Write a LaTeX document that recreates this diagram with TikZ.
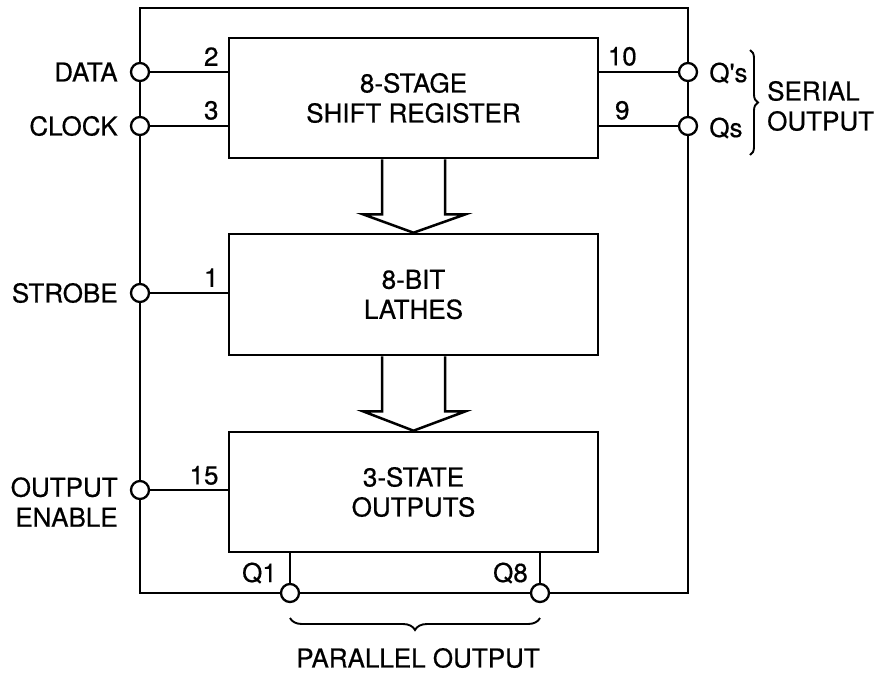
\documentclass[tikz,border=0pt]{standalone}
\usepackage{fontspec}
\setmainfont{TeX Gyre Heros}[FakeBold=0.5]
\usetikzlibrary{decorations.pathreplacing,calc}
\begin{document}
\begin{tikzpicture}[x=1pt,y=-1pt,
  lbl/.style={font=\fontsize{26}{30}\selectfont, inner sep=0pt},
  blk/.style={draw, line width=2.6pt, minimum width=369pt, minimum height=120pt, align=center, font=\fontsize{26}{30}\selectfont, fill=white},
  pin/.style={circle, draw, fill=white, line width=2.3pt, minimum size=18pt, inner sep=0pt},
  frame/.style={line width=2.8pt},
  sig/.style={line width=1.9pt},
  hollow/.style={line width=2.5pt, line join=miter},
  brc/.style={decorate, line width=1.9pt}
]
\fill[white] (0,0) rectangle (889,673);
\useasboundingbox (0,0) rectangle (889,673);
\coordinate (tl) at (140,8);
\coordinate (br) at (688,593);
\draw[frame] (tl) rectangle (br);

\node[blk] (sr) at (413.5,98) {8-STAGE\\SHIFT REGISTER};
\node[blk, minimum height=121pt] (lt) at (413.5,294.5) {8-BIT\\LATHES};
\node[blk] (ts) at (413.5,492) {3-STATE\\OUTPUTS};

\node[pin] (data) at (140,72) {};
\node[pin] (clock) at (140,126) {};
\node[pin] (strobe) at (140,293) {};
\node[pin] (oe) at (140,490) {};
\node[pin] (qps) at (688,72) {};
\node[pin] (qs) at (688,126) {};
\node[pin] (q1) at (290,593) {};
\node[pin] (q8) at (540,593) {};

\draw[sig] (data) -- (data -| sr.west);
\draw[sig] (clock) -- (clock -| sr.west);
\draw[sig] (strobe) -- (strobe -| lt.west);
\draw[sig] (oe) -- (oe -| ts.west);
\draw[sig] (qps) -- (qps -| sr.east);
\draw[sig] (qs) -- (qs -| sr.east);
\draw[sig] (q1) -- (q1 |- ts.south);
\draw[sig] (q8) -- (q8 |- ts.south);

\node[lbl, anchor=south east] (n2) at ($(data -| sr.west)+(-9,-6)$) {2};
\node[lbl, anchor=south east] (n3) at ($(clock -| sr.west)+(-9,-6)$) {3};
\node[lbl, anchor=south east] (n1) at ($(strobe -| lt.west)+(-9,-6)$) {1};
\node[lbl, anchor=south east] (n15) at ($(oe -| ts.west)+(-9,-5)$) {15};
\node[lbl, anchor=south] (n10) at ($(qps -| sr.east)+(23,-6)$) {10};
\node[lbl, anchor=south] (n9) at ($(qs -| sr.east)+(23,-6)$) {9};

\node[lbl, anchor=east] (ldata) at ($(data.west)+(-12,0)$) {DATA};
\node[lbl, anchor=east] (lclock) at ($(clock.west)+(-12,0)$) {CLOCK};
\node[lbl, anchor=east] (lstrobe) at ($(strobe.west)+(-12,0)$) {STROBE};
\node[lbl, anchor=east, align=right] (loe) at ($(oe.west)+(-12,12)$) {OUTPUT\\ENABLE};
\node[lbl, anchor=west] (lqps) at ($(qps.east)+(11,1)$) {Q\textquotesingle s};
\node[lbl, anchor=west] (lqs) at ($(qs.east)+(11,2)$) {Qs};
\node[lbl, anchor=east] (lq1) at ($(q1)+(-13,-20)$) {Q1};
\node[lbl, anchor=east] (lq8) at ($(q8)+(-12,-20)$) {Q8};

\draw[brc, decoration={brace, amplitude=8pt}] (750,50) -- (750,155);
\node[lbl, anchor=west, align=left] (lser) at (767,106) {SERIAL\\OUTPUT};
\draw[brc, decoration={brace, amplitude=12pt}] (540,618) -- (290,618);
\node[lbl] (lpar) at (418,658) {PARALLEL OUTPUT};

\draw[hollow] ($(sr.south)+(-31.5,0)$) -- ++(0,55) -- ++(-19,0) -- (lt.north)
  -- ($(sr.south)+(52,55)$) -- ++(-20.5,0) -- ++(0,-55);
\draw[hollow] ($(lt.south)+(-31.5,0)$) -- ++(0,55) -- ++(-19,0) -- (ts.north)
  -- ($(lt.south)+(52,55)$) -- ++(-20.5,0) -- ++(0,-55);
\end{tikzpicture}
\end{document}
